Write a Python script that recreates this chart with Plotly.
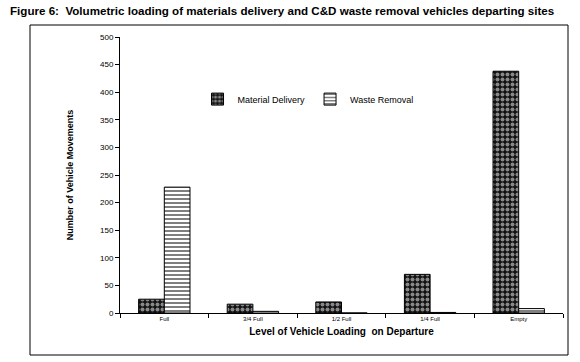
import plotly.graph_objects as go

categories = ["Full", "3/4 Full", "1/2 Full", "1/4 Full", "Empty"]
material_delivery = [25, 16, 20, 70, 438]
waste_removal = [228, 3, 0, 1, 8]
y_ticks = [0, 50, 100, 150, 200, 250, 300, 350, 400, 450, 500]

FONT = "Liberation Sans, Arial, sans-serif"

fig = go.Figure()
fig.add_trace(go.Bar(
    name="Material Delivery", x=categories, y=material_delivery,
    marker=dict(color="black", line=dict(color="black", width=1),
                pattern=dict(shape=".", fgcolor="white", bgcolor="#111111",
                             size=5, solidity=0.5, fillmode="overlay")),
))
fig.add_trace(go.Bar(
    name="Waste Removal", x=categories, y=waste_removal,
    marker=dict(color="white", line=dict(color="black", width=1),
                pattern=dict(shape="-", fgcolor="black", bgcolor="white",
                             size=4, solidity=0.5, fillmode="overlay")),
))

fig.update_layout(
    width=580, height=362,
    margin=dict(l=120, r=17, t=37, b=49),
    paper_bgcolor="white", plot_bgcolor="white",
    barmode="group", bargap=0.42, bargroupgap=0,
    font=dict(family=FONT, color="black"),
    showlegend=True,
    legend=dict(orientation="h", x=0.175, y=0.775, xanchor="left", yanchor="middle",
                bgcolor="rgba(0,0,0,0)", font=dict(size=9), itemwidth=30,
                traceorder="normal"),
    annotations=[
        dict(text="<b>Figure 6:  Volumetric loading of materials delivery and C&D waste removal vehicles departing sites</b>",
             xref="paper", yref="paper", x=(8 - 120) / 443, y=(313 - 10) / 276,
             xanchor="left", yanchor="middle", showarrow=False,
             font=dict(family=FONT, size=11.6, color="black")),
    ],
    shapes=[
        dict(type="rect", xref="paper", yref="paper",
             x0=(30 - 120) / 443, x1=(568 - 120) / 443,
             y0=(313 - 355) / 276, y1=(313 - 25) / 276,
             line=dict(color="black", width=1), fillcolor="rgba(0,0,0,0)", layer="below"),
    ],
)

fig.update_xaxes(
    showline=True, linecolor="black", linewidth=1,
    ticks="outside", tickson="boundaries", ticklen=4, tickcolor="black",
    tickfont=dict(size=6), showgrid=False,
    title=dict(text="<b>Level of Vehicle Loading  on Departure</b>", font=dict(size=10), standoff=6),
)
fig.update_yaxes(
    range=[0, 500], tickvals=y_ticks, showline=True, linecolor="black", linewidth=1,
    ticks="outside", ticklen=4, tickcolor="black", tickfont=dict(size=8), showgrid=False,
    zeroline=False,
    title=dict(text="<b>Number of Vehicle Movements</b>", font=dict(size=9), standoff=24),
)

fig.write_html("out.html", config={"displayModeBar": False},
               post_script="document.body.style.margin='0';")
